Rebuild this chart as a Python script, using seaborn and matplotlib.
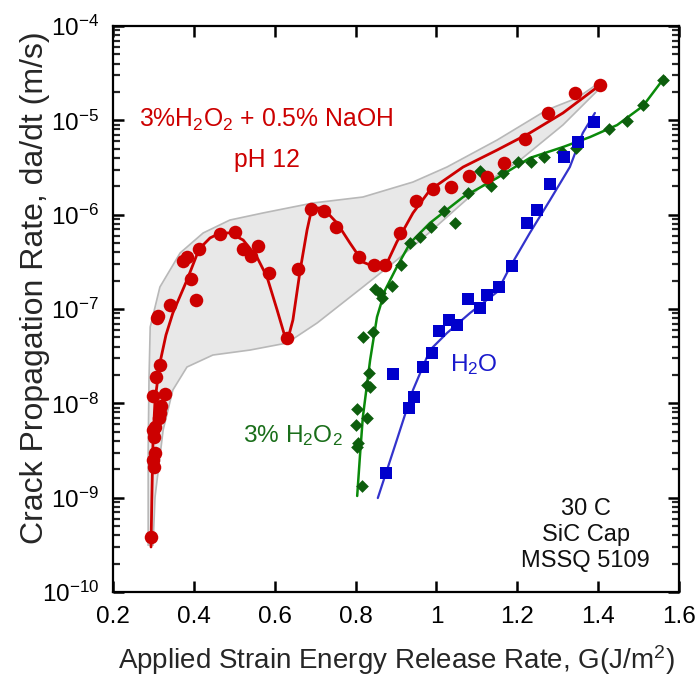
import numpy as np
import pandas as pd
import matplotlib
matplotlib.use("Agg")
import matplotlib.pyplot as plt
from matplotlib.ticker import LogLocator, FixedLocator, FuncFormatter, NullFormatter
import seaborn as sns

# ---------------- data ----------------
# log10 of crack velocity (m/s)
red_x = [0.294, 0.301, 0.299, 0.304, 0.301, 0.299, 0.304, 0.314, 0.316, 0.319, 0.329, 0.299,
         0.306, 0.316, 0.311, 0.309, 0.341, 0.405, 0.393, 0.373, 0.383, 0.413, 0.465, 0.502,
         0.522, 0.559, 0.541, 0.586, 0.630, 0.658, 0.690, 0.722, 0.752, 0.808, 0.846, 0.873,
         0.910, 0.949, 0.991, 1.036, 1.081, 1.125, 1.167, 1.219, 1.276, 1.343, 1.405]
red_logy = [-9.417, -8.675, -8.601, -8.527, -8.357, -8.283, -8.251, -8.156, -8.103, -8.028, -7.901, -7.922,
            -7.721, -7.594, -7.074, -7.095, -6.958, -6.905, -6.682, -6.491, -6.449, -6.364, -6.205, -6.184,
            -6.364, -6.332, -6.438, -6.618, -7.308, -6.576, -5.940, -5.961, -6.131, -6.449, -6.534, -6.534,
            -6.194, -5.855, -5.728, -5.707, -5.590, -5.601, -5.452, -5.198, -4.922, -4.710, -4.625]

red_fit_x = [0.294, 0.296, 0.299, 0.304, 0.316, 0.331, 0.348, 0.383, 0.413, 0.440, 0.465, 0.489,
             0.522, 0.556, 0.581, 0.606, 0.630, 0.645, 0.663, 0.680, 0.692, 0.719, 0.754, 0.786,
             0.818, 0.853, 0.873, 0.902, 0.942, 0.984, 1.066, 1.150, 1.231, 1.313, 1.405]
red_fit_logy = [-9.523, -9.025, -8.389, -7.965, -7.573, -7.276, -7.043, -6.693, -6.364, -6.247, -6.194, -6.194,
                -6.269, -6.449, -6.661, -7.011, -7.361, -7.117, -6.587, -6.163, -5.929, -5.929, -6.088, -6.300,
                -6.502, -6.565, -6.555, -6.290, -5.982, -5.739, -5.495, -5.315, -5.134, -4.922, -4.625]

band_up_x = [0.287, 0.287, 0.289, 0.292, 0.316, 0.366, 0.423, 0.489, 0.571, 0.695, 0.818, 0.942,
             1.026, 1.150, 1.273, 1.348, 1.405]
band_up_logy = [-9.502, -8.495, -7.753, -7.191, -6.767, -6.406, -6.194, -6.057, -5.982, -5.876, -5.813, -5.654,
                -5.495, -5.209, -4.890, -4.763, -4.594]
band_lo_x = [0.299, 0.304, 0.324, 0.348, 0.383, 0.447, 0.539, 0.630, 0.705, 0.818, 0.902, 0.984,
             1.115, 1.207, 1.313, 1.405]
band_lo_logy = [-9.502, -8.993, -8.283, -7.859, -7.615, -7.488, -7.435, -7.361, -7.148, -6.767, -6.481, -6.184,
                -5.686, -5.421, -5.049, -4.657]

green_x = [0.816, 0.804, 0.806, 0.801, 0.828, 0.804, 0.828, 0.836, 0.833, 0.818, 0.843, 0.848,
           0.860, 0.865, 0.890, 0.912, 0.935, 0.959, 0.987, 1.019, 1.046, 1.078, 1.108, 1.135,
           1.165, 1.202, 1.234, 1.266, 1.311, 1.345, 1.427, 1.471, 1.511, 1.560]
green_logy = [-8.877, -8.463, -8.421, -8.230, -8.156, -8.060, -7.806, -7.827, -7.679, -7.297, -7.244, -6.788,
              -6.830, -6.883, -6.756, -6.534, -6.300, -6.237, -6.131, -5.961, -6.088, -5.770, -5.537, -5.696,
              -5.558, -5.442, -5.442, -5.389, -5.336, -5.293, -5.092, -5.007, -4.837, -4.572]
green_fit_x = [0.804, 0.811, 0.818, 0.836, 0.853, 0.873, 0.902, 0.935, 0.984, 1.066, 1.150, 1.231,
               1.313, 1.380, 1.447, 1.511, 1.565]
green_fit_logy = [-8.982, -8.548, -8.145, -7.541, -7.085, -6.799, -6.555, -6.300, -6.088, -5.813, -5.611, -5.399,
                  -5.283, -5.177, -5.050, -4.848, -4.541]

blue_x = [0.875, 0.932, 0.945, 0.893, 0.967, 0.989, 1.006, 1.031, 1.051, 1.078, 1.108, 1.125,
          1.155, 1.187, 1.224, 1.249, 1.281, 1.316, 1.350, 1.390]
blue_logy = [-8.739, -8.050, -7.933, -7.689, -7.615, -7.467, -7.233, -7.117, -7.170, -6.894, -6.989, -6.852,
             -6.767, -6.544, -6.088, -5.951, -5.675, -5.389, -5.230, -5.018]
blue_fit_x = [0.855, 0.902, 0.942, 0.984, 1.026, 1.083, 1.150, 1.182, 1.231, 1.281, 1.330, 1.362, 1.392]
blue_fit_logy = [-9.004, -8.389, -7.859, -7.435, -7.255, -7.043, -6.820, -6.555, -6.194, -5.845, -5.495, -5.134,
                 -4.922]

x_ticks = [0.2, 0.4, 0.6, 0.8, 1.0, 1.2, 1.4, 1.6]
y_exponents = [-10, -9, -8, -7, -6, -5, -4]

# ---------------- style ----------------
sns.set_style("ticks")
plt.rcParams['font.family'] = ['Liberation Sans', 'DejaVu Sans']
plt.rcParams['mathtext.fontset'] = 'custom'
plt.rcParams['mathtext.rm'] = 'Liberation Sans'
plt.rcParams['mathtext.it'] = 'Liberation Sans:italic'
plt.rcParams['mathtext.bf'] = 'Liberation Sans:bold'

RED = '#cc0000'
GREEN_LINE = '#0a8a0a'
GREEN_MK = '#0d5e0d'
BLUE_MK = '#0000cc'
BLUE_LINE = '#3333cc'

fig = plt.figure(figsize=(6.99, 6.80), dpi=100)
ax = fig.add_axes([113/699, 88/680, 566/699, 566/680])

def df(xs, lys):
    return pd.DataFrame({'x': xs, 'y': np.power(10.0, np.array(lys))})

red = df(red_x, red_logy)
red_fit = df(red_fit_x, red_fit_logy)
green = df(green_x, green_logy)
green_fit = df(green_fit_x, green_fit_logy)
blue = df(blue_x, blue_logy)
blue_fit = df(blue_fit_x, blue_fit_logy)

# gray band
poly_x = list(band_up_x) + list(band_lo_x)[::-1]
poly_y = list(np.power(10.0, band_up_logy)) + list(np.power(10.0, band_lo_logy))[::-1]
ax.fill(poly_x, poly_y, facecolor='#e8e8e8', edgecolor='#b8b8b8', linewidth=1.2, zorder=1)

sns.lineplot(data=red_fit, x='x', y='y', sort=False, estimator=None, color=RED, lw=2.0, ax=ax, zorder=3)
sns.lineplot(data=green_fit, x='x', y='y', sort=False, estimator=None, color=GREEN_LINE, lw=1.8, ax=ax, zorder=3)
sns.lineplot(data=blue_fit, x='x', y='y', sort=False, estimator=None, color=BLUE_LINE, lw=1.6, ax=ax, zorder=3)

sns.scatterplot(data=green, x='x', y='y', marker='D', s=42, color=GREEN_MK, edgecolor=GREEN_MK,
                linewidth=0, ax=ax, zorder=4)
sns.scatterplot(data=blue, x='x', y='y', marker='s', s=75, color=BLUE_MK, edgecolor=BLUE_MK,
                linewidth=0, ax=ax, zorder=4)
sns.scatterplot(data=red, x='x', y='y', marker='o', s=95, color=RED, edgecolor=RED,
                linewidth=0, ax=ax, zorder=5)

ax.set_yscale('log')
ax.set_xlim(0.2, 1.6)
ax.set_ylim(1e-10, 1e-4)

ax.xaxis.set_major_locator(FixedLocator(x_ticks))
ax.xaxis.set_major_formatter(FuncFormatter(lambda v, p: '%g' % v))
ax.yaxis.set_major_locator(FixedLocator([10.0 ** e for e in y_exponents]))
ax.yaxis.set_major_formatter(FuncFormatter(lambda v, p: r'10$^{%d}$' % int(round(np.log10(v)))))
ax.yaxis.set_minor_locator(LogLocator(base=10, subs=np.arange(2, 10), numticks=20))
ax.yaxis.set_minor_formatter(NullFormatter())

for s in ax.spines.values():
    s.set_linewidth(1.6)
    s.set_color('black')
ax.tick_params(which='major', direction='in', length=8, width=1.8, top=True, right=True,
               labelsize=17.5, pad=10, colors='black')
ax.tick_params(which='minor', direction='in', length=5, width=1.6, left=True, right=True)

ax.set_xlabel('Applied Strain Energy Release Rate, G(J/m$^{2}$)', fontsize=20, labelpad=11)
ax.set_ylabel('Crack Propagation Rate, da/dt (m/s)', fontsize=23)
ax.yaxis.set_label_coords(-0.111, 0.537)

ax.text(0.579, 10 ** -5.071, r'3%H$_2$O$_2$ + 0.5% NaOH', color=RED, fontsize=17.8, ha='center', va='baseline')
ax.text(0.581, 10 ** -5.495, 'pH 12', color=RED, fontsize=17.8, ha='center', va='baseline')
ax.text(0.644, 10 ** -8.410, r'3% H$_2$O$_2$', color='#1a6e1a', fontsize=17.6, ha='center', va='baseline')
ax.text(1.092, 10 ** -7.657, r'H$_2$O', color='#1a1acc', fontsize=17.6, ha='center', va='baseline')
for t, ly in [('30 C', -9.184), ('SiC Cap', -9.460), ('MSSQ 5109', -9.735)]:
    ax.text(1.369, 10 ** ly, t, color='#111111', fontsize=17, ha='center', va='baseline')

fig.savefig('out.png', dpi=100)
